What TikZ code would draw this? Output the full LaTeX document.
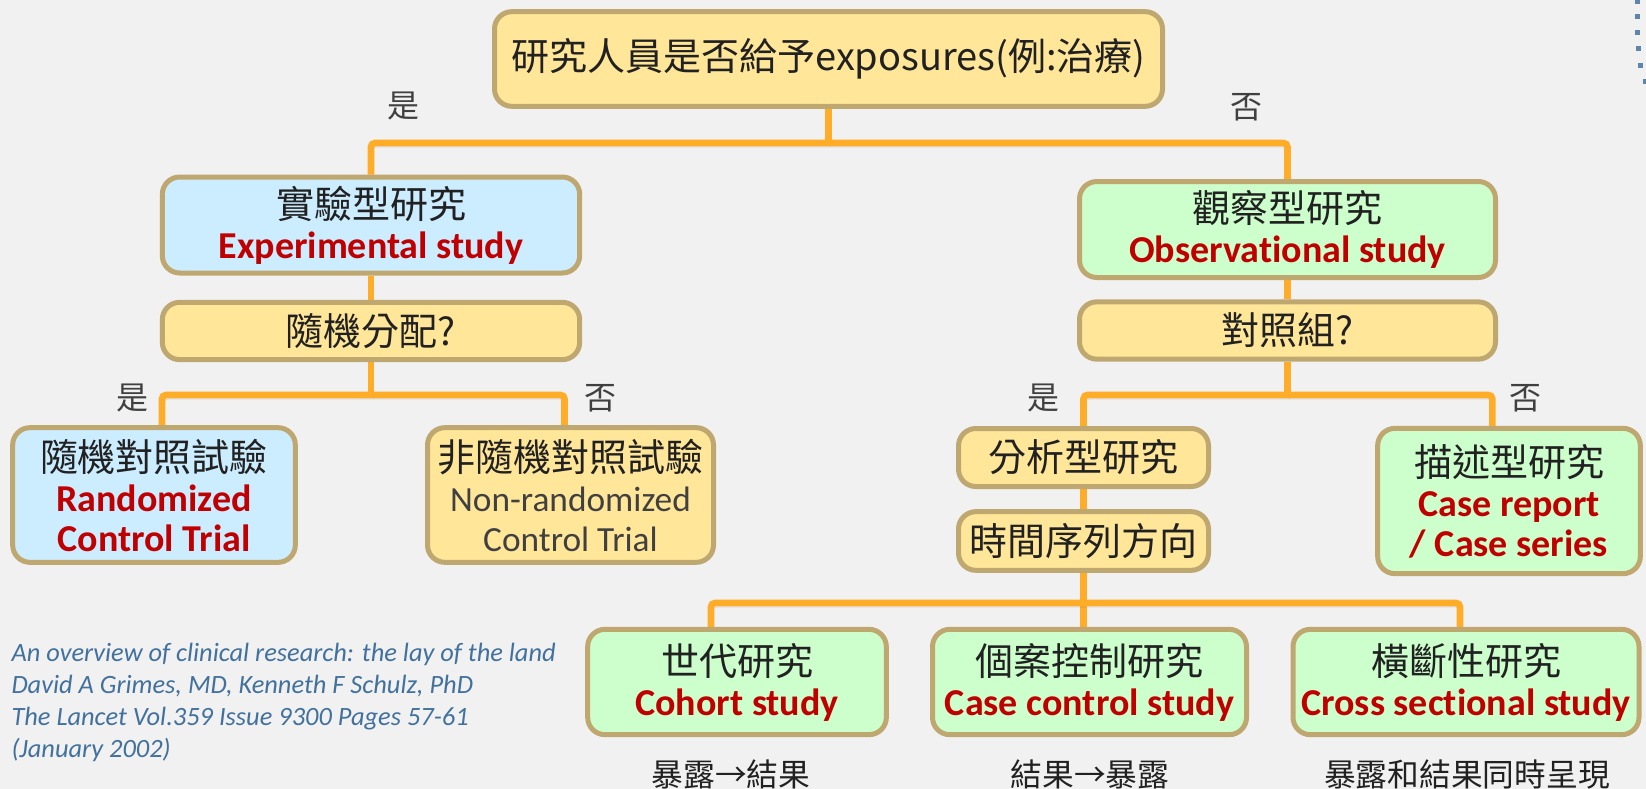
\documentclass[tikz,border=0pt]{standalone}
\usepackage{fontspec}
\setmainfont[Ligatures=NoCommon]{Carlito}
\newfontfamily\cjk{Noto Sans CJK TC}
\usetikzlibrary{backgrounds}

\definecolor{linkorange}{RGB}{255,173,41}
\definecolor{boxedge}{RGB}{191,167,112}
\definecolor{fillyellow}{RGB}{255,230,153}
\definecolor{fillblue}{RGB}{204,236,255}
\definecolor{fillgreen}{RGB}{204,255,204}
\definecolor{textred}{RGB}{192,0,0}
\definecolor{textdark}{RGB}{33,33,33}
\definecolor{textgray}{RGB}{64,64,64}
\definecolor{citeblue}{RGB}{65,113,156}
\definecolor{pagebg}{RGB}{241,241,241}

\newcommand\redtxt[1]{{\bfseries\color{textred}#1}}

\tikzset{every picture/.style={line width=0.75pt}}
\tikzset{
  rbox/.style={draw=boxedge, line width=3.75pt, rounded corners=13pt, inner sep=0pt,
    align=center, text=textdark, font=\fontsize{28.5}{30}\selectfont},
  ybox/.style={rbox, fill=fillyellow},
  bbox/.style={rbox, fill=fillblue},
  gbox/.style={rbox, fill=fillgreen},
  link/.style={draw=linkorange, line width=5pt, rounded corners=3pt,
    preaction={draw=black, opacity=0.12, transform canvas={yshift=-3pt, xshift=1.5pt}}},
  yesno/.style={inner sep=0pt, text=textgray, font=\cjk\fontsize{24}{28}\selectfont},
  effect/.style={inner sep=0pt, text=textdark, font=\cjk\fontsize{23.8}{28}\selectfont},
}

\begin{document}
\begin{tikzpicture}[x=0.75pt,y=0.75pt,yscale=-1,xscale=1]
\useasboundingbox (0,0) rectangle (1646,789);

%Rounded Rect
\node[ybox, minimum width=501pt, minimum height=71pt] (top) at (828.5,59) {\cjk 研究人員是否給予exposures(例:治療)};
%Rounded Rect
\node[bbox, minimum width=313pt, minimum height=72pt] (exp) at (371,225) {{\cjk 實驗型研究}\\\redtxt{Experimental study}};
\node[gbox, minimum width=312pt, minimum height=72pt] (obs) at (1287.5,229.5) {{\cjk 觀察型研究}\\\redtxt{Observational study}};
%Rounded Rect
\node[ybox, minimum width=313pt, minimum height=43pt] (rand) at (371,331) {\cjk 隨機分配?};
\node[ybox, minimum width=312pt, minimum height=43pt] (ctrl) at (1287.5,330.5) {\cjk 對照組?};
%Rounded Rect
\node[bbox, minimum width=212pt, minimum height=101pt] (rct) at (154,495) {{\cjk 隨機對照試驗}\\\redtxt{Randomized}\\\redtxt{Control Trial}};
\node[ybox, minimum width=214.5pt, minimum height=101pt] (nrct) at (570.5,495) {{\cjk 非隨機對照試驗}\\{\color{textgray}\fontsize{26.5}{30}\selectfont Non-randomized}\\{\color{textgray}\fontsize{26.5}{30}\selectfont Control Trial}};
%Rounded Rect
\node[ybox, minimum width=187.5pt, minimum height=43.5pt] (anal) at (1083.5,457.5) {\cjk 分析型研究};
\node[ybox, minimum width=187.5pt, minimum height=44pt] (tseq) at (1083.5,541) {\cjk 時間序列方向};
\node[gbox, minimum width=197pt, minimum height=109pt] (desc) at (1509,501) {{\cjk 描述型研究}\\\redtxt{Case report}\\\redtxt{/ Case series}};
%Rounded Rect
\node[gbox, minimum width=224pt, minimum height=79pt] (coh) at (737,682) {{\cjk 世代研究}\\\redtxt{Cohort study}};
\node[gbox, minimum width=235.5pt, minimum height=79pt] (cc) at (1089.5,682) {{\cjk 個案控制研究}\\\redtxt{Case control study}};
\node[gbox, minimum width=259.5pt, minimum height=79pt] (cs) at (1466,682) {{\cjk 橫斷性研究}\\\redtxt{Cross sectional study}};

% Text Node
\node[yesno] (yes0) at (403,106) {是};
\node[yesno] (no0) at (1246,107) {否};
\node[yesno] (yes1) at (132,398) {是};
\node[yesno] (no1) at (600,398) {否};
\node[yesno] (yes2) at (1043,398) {是};
\node[yesno] (no2) at (1525,398) {否};

% Text Node
\node[effect] (eff1) at (731,774) {暴露→結果};
\node[effect] (eff2) at (1090,774) {結果→暴露};
\node[effect] (eff3) at (1467,774) {暴露和結果同時呈現};

% Text Node
\node[anchor=north west, inner sep=0pt, align=left, text=citeblue, font=\itshape\fontsize{19.8}{23.8}\selectfont] (cite) at (11,643)
  {An overview of clinical research: the lay of the land\\David A Grimes, MD, Kenneth F Schulz, PhD\\The Lancet Vol.359 Issue 9300 Pages 57-61\\(January 2002)};

%Dots
\foreach \px/\py in {1637/1,1637/16,1637/32,1638/48,1640/65,1645/81}
  \fill[citeblue!85] (\px-2.5,\py-2.5) rectangle ++(5,5);

\begin{pgfonlayer}{background}
\fill[pagebg] (0,0) rectangle (1646,789);

%Straight Lines
\coordinate (j0) at (828.5,143);
\coordinate (j1) at (371,395);
\coordinate (j2) at (1287.5,395);
\coordinate (j3) at (1083.5,603);
\draw[link] (top.south) -- (j0);
\draw[link] (exp.north) |- (j0) -| (obs.north);
\draw[link] (exp.south) -- (rand.north);
\draw[link] (obs.south) -- (ctrl.north);
\draw[link] (rand.south) -- (j1);
\draw[link] ([xshift=6pt]rct.north) |- (j1) -| ([xshift=-4.5pt]nrct.north);
\draw[link] (ctrl.south) -- (j2);
\draw[link] (anal.north) |- (j2) -| ([xshift=-12.5pt]desc.north);
\draw[link] (anal.south) -- (tseq.north);
\draw[link] (tseq.south) -- (tseq.south |- cc.north);
\draw[link] ([xshift=-19.5pt]coh.north) |- (j3) -| ([xshift=-4.5pt]cs.north);
\end{pgfonlayer}
\end{tikzpicture}
\end{document}
